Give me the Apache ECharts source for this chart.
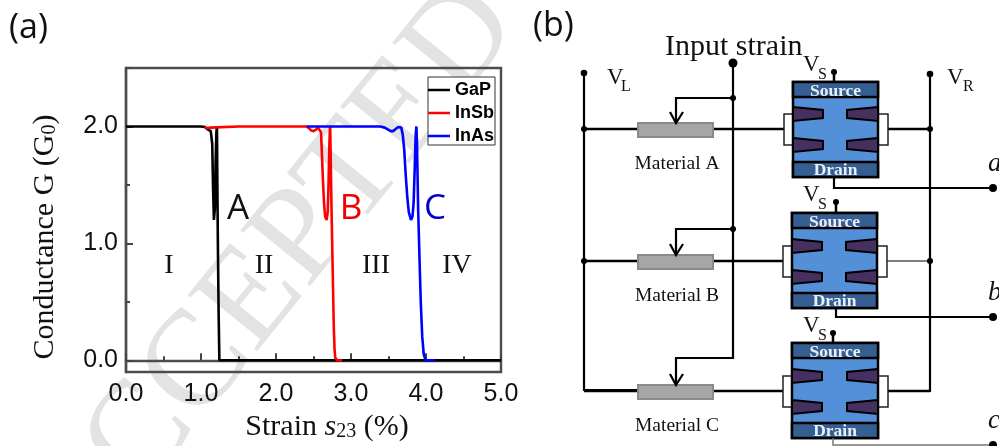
<!DOCTYPE html>
<html><head><meta charset="utf-8">
<style>html,body{margin:0;padding:0;background:#fff}#c{width:999px;height:446px}</style>
<script src="https://cdn.jsdelivr.net/npm/echarts@6/dist/echarts.min.js"></script></head>
<body><div id="c"></div>
<script>
const gapData=[[0,2],[0.5,2],[1.0,2],[1.05,1.995],[1.1,1.97],[1.13,1.96],[1.15,1.85],[1.16,1.5],[1.172,1.2],[1.185,1.3],[1.195,1.7],[1.205,1.95],[1.213,2],[1.217,1.6],[1.225,1.0],[1.235,0.4],[1.245,0],[2,0],[3,0],[4,0],[5,0]];
const insbData=[[1.05,2],[1.08,1.985],[1.12,1.99],[1.5,2],[2,2],[2.41,2],[2.44,1.985],[2.47,1.965],[2.5,1.96],[2.53,1.97],[2.56,1.99],[2.58,2],[2.6,1.95],[2.61,1.8],[2.625,1.55],[2.64,1.35],[2.655,1.23],[2.675,1.2],[2.69,1.27],[2.7,1.5],[2.71,1.8],[2.718,1.97],[2.722,2],[2.728,1.8],[2.74,1.3],[2.755,0.8],[2.77,0.3],[2.78,0.1],[2.79,0.02],[2.82,0],[2.88,0]];
const inasData=[[2.41,2],[3,2],[3.39,2],[3.45,1.99],[3.49,1.975],[3.53,1.96],[3.56,1.96],[3.6,1.98],[3.63,1.995],[3.65,2],[3.67,1.99],[3.69,1.93],[3.71,1.8],[3.73,1.58],[3.75,1.4],[3.77,1.27],[3.8,1.2],[3.82,1.23],[3.835,1.35],[3.85,1.65],[3.862,1.92],[3.872,2],[3.88,1.85],[3.895,1.3],[3.91,0.95],[3.93,0.5],[3.95,0.2],[3.97,0.05],[3.995,0],[4.12,0]];
const xTicks=[0,1,2,3,4,5];
const yMajor=[0,1,2];
const yMinor=[0.5,1.5,2.5];
const regionLabels=['I','II','III','IV'];
const regionX=[169,264,376,457];
const serif='"Liberation Serif"',sans='"Liberation Sans"';
const BK='#000';
const g=[];
function line(pts,w,c){g.push({type:'polyline',z:10,shape:{points:pts},style:{stroke:c||BK,lineWidth:w||2.5,fill:null,lineJoin:'miter'}});}
function dot(x,y,r){g.push({type:'circle',z:12,shape:{cx:x,cy:y,r:r||3.3},style:{fill:BK}});}
function txt(x,y,t,font,fill,align,z){g.push({type:'text',z:z||11,x,y,style:{text:t,font,fill:fill||'#111',textAlign:align||'left',textVerticalAlign:'middle'}});}
function rect(x,y,w,h,fill,stroke,lw){g.push({type:'rect',z:10,shape:{x,y,width:w,height:h},style:{fill,stroke,lineWidth:lw||0}});}
function poly(pts){g.push({type:'polygon',z:11,shape:{points:pts},style:{fill:'#45305f',stroke:BK,lineWidth:2}});}
// watermark
g.push({type:'text',z:-5,x:272,y:276,rotation:0.89,style:{text:'ACCEPTED',font:'136px '+serif,fill:'#e3e3e3',textAlign:'center',textVerticalAlign:'middle'}});
// panel labels
txt(9,28,'(a)','34px "Open Sans"','#111');
txt(533,26,'(b)','34px "Open Sans"','#111');
regionLabels.forEach((t,i)=>txt(regionX[i],266,t,'28px '+serif,'#111','center'));
txt(238,209,'A','35px "Open Sans"','#111','center');
txt(351,209,'B','35px "Open Sans"','#f00000','center');
txt(435,209,'C','35px "Open Sans"','#0000c8','center');
// circuit
line([[584,73],[584,390],[638,390]],2.2);
line([[930,74],[930,391],[887,391]],2.2);
line([[733,63],[733,358],[676,358],[676,383]],2.2);
dot(584,73);dot(930,74);dot(733,63,4.5);
txt(665,47,'Input strain','30px '+serif);
txt(607,78,'V','23px '+serif);txt(621,87,'L','16px '+serif);
txt(947,78,'V','23px '+serif);txt(963,87,'R','16px '+serif);
const stages=[
 {n:'Material A',o:'a',wy:129,top:82,l:793,r:878,tap:98,oy:188,dx:834,vs:72},
 {n:'Material B',o:'b',wy:261,top:213,l:792,r:877,tap:229,oy:317,dx:836,vs:202},
 {n:'Material C',o:'c',wy:391,top:343,l:792,r:878,tap:null,oy:445,dx:833,vs:333}];
stages.forEach(s=>{
 const m=s.l, R=s.r, w=s.wy, t=s.top, b=t+95;
 line([[584,w],[638,w]],2.5);line([[713,w],[m-9,w]],2.5);
 line([[R+10,w],[930,w]],s.n==='Material B'?1.5:2.5,s.n==='Material B'?'#555':BK);
 if(w<390){dot(584,w,3);dot(930,w,3);}
 rect(638,w-6,75,14,'#a6a6a6','#8a8a8a',2);
 if(s.tap){line([[733,s.tap],[676,s.tap],[676,w-7]],2.2);dot(733,s.tap,3);}
 line([[670,w-17],[676,w-6],[683,w-17]],2.2);
 txt(677,w+35,s.n,'19.5px '+serif,'#111','center');
 rect(m-9,w-15,9,31,'#fff','#222',1.5);rect(R,w-15,10,31,'#fff','#222',1.5);
 rect(m,t,R-m,95,'#5490d8',BK,2.5);
 rect(m,t,R-m,15,'#355f92',BK,2.5);rect(m,b-15,R-m,15,'#355f92',BK,2.5);
 txt((m+R)/2,t+9,'Source','bold 17.5px '+serif,'#e8eff8','center');
 txt((m+R)/2,b-7,'Drain','bold 17.5px '+serif,'#e8eff8','center');
 const a=w-22,c=w+9;
 [a,c].forEach(yy=>{
  poly([[m,yy],[m+30,yy+3],[m+30,yy+11],[m,yy+14]]);
  poly([[R,yy],[R-31,yy+3],[R-31,yy+11],[R,yy+14]]);
 });
 line([[s.dx,s.vs],[s.dx,t]],2.5);dot(s.dx,s.vs,3);
 txt(803,s.vs-7,'V','23px '+serif);txt(818,s.vs+3,'S','16px '+serif);
 line([[s.dx,b],[s.dx,s.oy],[993,s.oy]],s.o==='c'?1.5:2.2,s.o==='c'?'#777':BK);
 dot(993,s.oy,4);
 txt(988,s.oy-24,s.o,'italic 27px '+serif);
});
const tickStyle={color:'#444',width:2};
const labelStyle={fontFamily:sans,fontSize:25,color:'#111'};
const nameT={fontFamily:serif,fontSize:30,color:'#111'};
const subT={fontFamily:serif,fontSize:20,color:'#111',verticalAlign:'bottom',padding:[9,0,0,0]};
const mk=(name,data,color)=>({name,type:'line',data,showSymbol:false,symbol:'none',smooth:false,clip:true,lineStyle:{color,width:2.6},itemStyle:{color},z:5});
const chart=echarts.init(document.getElementById('c'),null,{renderer:'canvas'});
chart.setOption({
 animation:false,backgroundColor:'#fff',
 grid:{left:126,top:68,width:375,height:304,outerBoundsMode:'none',show:true,borderColor:'#4d4d4d',borderWidth:2.4,backgroundColor:'transparent'},
 xAxis:{type:'value',min:0,max:5,interval:1,
  name:'{t|Strain }{i|s}{s|23}{t| (%)}',nameLocation:'center',nameGap:39,
  nameTextStyle:{padding:[0,0,0,27],rich:{t:nameT,i:Object.assign({},nameT,{fontStyle:'italic'}),s:subT}},
  axisLine:{show:true,lineStyle:{color:'#4d4d4d',width:2.4}},
  axisTick:{show:true,inside:true,length:7,lineStyle:tickStyle},
  minorTick:{show:true,splitNumber:2,length:4,lineStyle:tickStyle},
  splitLine:{show:false},minorSplitLine:{show:false},
  axisLabel:Object.assign({show:true,margin:10,hideOverlap:false,formatter:v=>xTicks.includes(v)?v.toFixed(1):''},labelStyle)},
 yAxis:[
  {type:'value',min:-0.1,max:2.5,position:'left',
   name:'{t|Conductance G (G}{s|0}{t|)}',nameLocation:'center',nameGap:66,nameRotate:90,
   nameTextStyle:{padding:[0,34,0,0],rich:{t:nameT,s:subT}},
   axisLine:{show:true,lineStyle:{color:'#4d4d4d',width:2.4}},
   axisTick:{show:true,inside:true,length:7,lineStyle:tickStyle,customValues:yMajor},
   splitLine:{show:false},
   axisLabel:Object.assign({show:true,margin:8,customValues:yMajor,formatter:v=>v.toFixed(1)},labelStyle)},
  {type:'value',min:-0.1,max:2.5,position:'left',
   axisLine:{show:false},
   axisTick:{show:true,inside:true,length:4,lineStyle:tickStyle,customValues:yMinor},
   splitLine:{show:false},axisLabel:{show:false,customValues:yMinor}}
 ],
 legend:{left:428,top:77,orient:'vertical',padding:[4,1,0,0],itemGap:5,itemWidth:22,itemHeight:18,
  backgroundColor:'#fff',borderColor:'#333',borderWidth:1,icon:'path://M0 8H22V10.5H0Z',
  textStyle:{fontFamily:sans,fontWeight:'bold',fontSize:18,color:'#000'},
  data:['GaP','InSb','InAs'],z:8},
 series:[mk('GaP',gapData,'#000'),mk('InSb',insbData,'#ff0000'),mk('InAs',inasData,'#0000ff')],
 graphic:{elements:g}
});
</script></body></html>
